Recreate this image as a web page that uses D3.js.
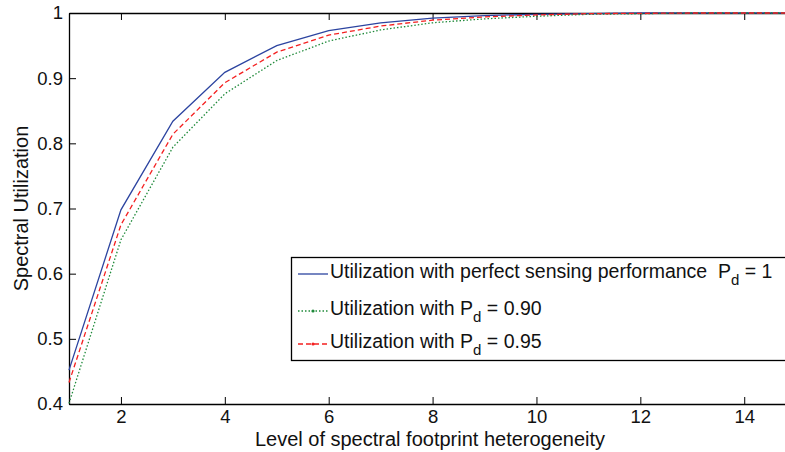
<!DOCTYPE html>
<html>
<head>
<meta charset="utf-8">
<script src="https://cdn.jsdelivr.net/npm/d3@7"></script>
<style>
  body { margin: 0; background: #fff; }
  svg { display: block; font-family: "Liberation Sans", Arial, sans-serif; }
</style>
</head>
<body>
<div id="container"></div>
<script>
// data
const levels = [1, 2, 3, 4, 5, 6, 7, 8, 9, 10, 11, 12, 13, 14, 15];
const utilPerfect = [0.452, 0.698, 0.834, 0.909, 0.950, 0.973, 0.985, 0.992, 0.996, 0.998, 0.999, 1.0, 1.0, 1.0, 1.0];
const util090 = [0.401, 0.652, 0.794, 0.876, 0.927, 0.957, 0.974, 0.985, 0.991, 0.995, 0.998, 0.999, 1.0, 1.0, 1.0];
const util095 = [0.433, 0.675, 0.814, 0.893, 0.940, 0.966, 0.980, 0.989, 0.994, 0.997, 0.999, 0.9995, 1.0, 1.0, 1.0];
const xTicks = [2, 4, 6, 8, 10, 12, 14];
const yTicks = [0.4, 0.5, 0.6, 0.7, 0.8, 0.9, 1];

const series = [
    { values: utilPerfect, color: "#2c44a0", dash: null, marker: false, label: ["Utilization with perfect sensing performance  P", "d", " = 1"] },
    { values: util090, color: "#1f8a3a", dash: "1.5,2", marker: true, label: ["Utilization with P", "d", " = 0.90"] },
    { values: util095, color: "#f42020", dash: "5,3", marker: true, label: ["Utilization with P", "d", " = 0.95"] }
];

const WIDTH = 785;
const HEIGHT = 452;
const LEFT = 69, TOP = 13, BOTTOM = 404;
const UNIT = 51.94;

const svg = d3.select("#container")
    .append("svg")
    .attr("width", WIDTH)
    .attr("height", HEIGHT);

const xScale = d3.scaleLinear()
    .domain([1, 15])
    .range([LEFT, LEFT + 14 * UNIT]);

const yScale = d3.scaleLinear()
    .domain([0.4, 1])
    .range([BOTTOM, TOP]);

// bottom axis, ticks pointing inward
const bottomAxis = d3.axisBottom(xScale)
    .tickValues(xTicks)
    .tickSizeInner(-7)
    .tickSizeOuter(0)
    .tickPadding(6);

const gx = svg.append("g")
    .attr("transform", "translate(0," + BOTTOM + ")")
    .call(bottomAxis);

const leftAxis = d3.axisLeft(yScale)
    .tickValues(yTicks)
    .tickFormat(d3.format("~g"))
    .tickSizeInner(-7)
    .tickSizeOuter(0)
    .tickPadding(6);

const gy = svg.append("g")
    .attr("transform", "translate(" + LEFT + ",0)")
    .call(leftAxis);

// top border with ticks
const topAxis = d3.axisTop(xScale)
    .tickValues(xTicks)
    .tickSizeInner(-7)
    .tickSizeOuter(0)
    .tickFormat("");

const gt = svg.append("g")
    .attr("transform", "translate(0," + TOP + ")")
    .call(topAxis);

[gx, gy, gt].forEach(g => {
    g.select(".domain").attr("stroke", "#000").attr("stroke-width", 1.3);
    g.selectAll(".tick line").attr("stroke", "#000").attr("stroke-width", 1);
    g.selectAll(".tick text").attr("fill", "#111").style("font-size", "18.5px")
        .style("font-family", "'Liberation Sans', Arial, sans-serif");
});

// lines
const line = d3.line()
    .x((d, i) => xScale(levels[i]))
    .y(d => yScale(d));

series.forEach(s => {
    svg.append("path")
        .datum(s.values)
        .attr("fill", "none")
        .attr("stroke", s.color)
        .attr("stroke-width", 1.3)
        .attr("stroke-dasharray", s.dash)
        .attr("d", line);
});

// axis labels
svg.append("text")
    .attr("x", 430)
    .attr("y", 446)
    .attr("text-anchor", "middle")
    .style("font-size", "20px")
    .attr("fill", "#111")
    .text("Level of spectral footprint heterogeneity");

svg.append("text")
    .attr("transform", "translate(28," + ((TOP + BOTTOM) / 2) + ") rotate(-90)")
    .attr("text-anchor", "middle")
    .style("font-size", "20px")
    .attr("fill", "#111")
    .text("Spectral Utilization");

// legend
const legend = svg.append("g");

legend.append("rect")
    .attr("x", 291.5)
    .attr("y", 257.5)
    .attr("width", 520)
    .attr("height", 103)
    .attr("fill", "#fff")
    .attr("stroke", "#000")
    .attr("stroke-width", 1.3);

const rowY = [274, 311, 344];

series.forEach((s, i) => {
    const y = rowY[i];
    legend.append("line")
        .attr("x1", 298).attr("x2", 328)
        .attr("y1", y).attr("y2", y)
        .attr("stroke", s.color)
        .attr("stroke-width", 1.3)
        .attr("stroke-dasharray", s.dash);
    if (s.marker) {
        legend.append("circle")
            .attr("cx", 313).attr("cy", y)
            .attr("r", 1.6)
            .attr("fill", s.color);
    }
    const t = legend.append("text")
        .attr("x", 330)
        .attr("y", y + 4)
        .attr("fill", "#111")
        .style("font-size", "19.5px")
        .attr("xml:space", "preserve")
        .style("white-space", "pre");
    t.append("tspan").text(s.label[0]);
    t.append("tspan").attr("dy", 7).style("font-size", "15px").text(s.label[1]);
    t.append("tspan").attr("dy", -7).text(s.label[2]);
});
</script>
</body>
</html>
